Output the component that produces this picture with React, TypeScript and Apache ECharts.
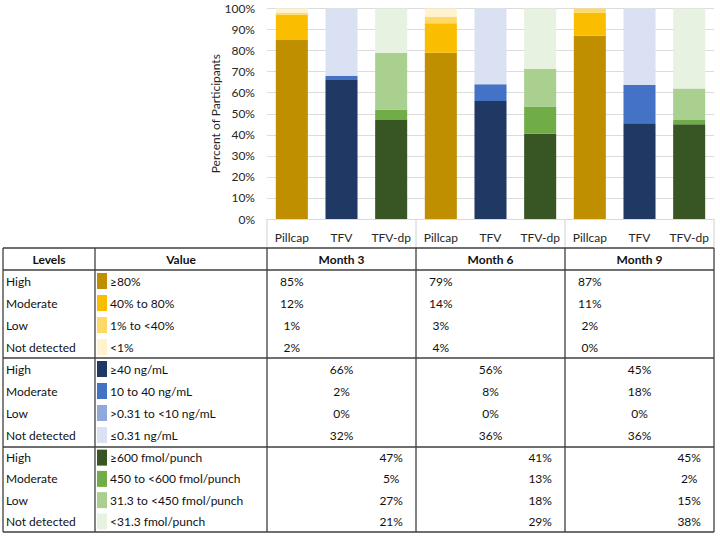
import React, { useEffect, useRef } from "react";
import * as echarts from "echarts";

// ---------- data ----------
const categories = ["Pillcap", "TFV", "TFV-dp", "Pillcap", "TFV", "TFV-dp", "Pillcap", "TFV", "TFV-dp"];
const months = ["Month 3", "Month 6", "Month 9"];
const levels = ["High", "Moderate", "Low", "Not detected"];

// Table percentages per month: [High, Moderate, Low, Not detected]
const pillcapValues = [
  [85, 12, 1, 2],
  [79, 14, 3, 4],
  [87, 11, 2, 0],
];
const tfvValues = [
  [66, 2, 0, 32],
  [56, 8, 0, 36],
  [45, 18, 0, 36],
];
const tfvDpValues = [
  [47, 5, 27, 21],
  [41, 13, 18, 29],
  [45, 2, 15, 38],
];

// Bar segment heights (unrounded shares)
const pillcapBars = [
  [85, 12, 1, 2],
  [79, 14, 3, 4],
  [87, 11, 2, 0],
];
const tfvBars = [
  [66, 2, 0, 32],
  [56, 8, 0, 36],
  [45.5, 18.2, 0, 36.3],
];
const tfvDpBars = [
  [47, 5, 27, 21],
  [40.5, 13, 17.8, 28.7],
  [45, 2, 15, 38],
];

const pillcapRanges = ["≥80%", "40% to 80%", "1% to <40%", "<1%"];
const tfvRanges = ["≥40 ng/mL", "10 to 40 ng/mL", ">0.31 to <10 ng/mL", "≤0.31 ng/mL"];
const tfvDpRanges = ["≥600 fmol/punch", "450 to <600 fmol/punch", "31.3 to <450 fmol/punch", "<31.3 fmol/punch"];

const pillcapColors = ["#BF8F00", "#FBBD00", "#FFD966", "#FFF2CC"];
const tfvColors = ["#203864", "#4472C4", "#8EA9DB", "#D9E1F2"];
const tfvDpColors = ["#375623", "#70AD47", "#A9D08E", "#E8F2E0"];

const measureValues = [pillcapValues, tfvValues, tfvDpValues];
const measureBars = [pillcapBars, tfvBars, tfvDpBars];
const measureRanges = [pillcapRanges, tfvRanges, tfvDpRanges];
const measureColors = [pillcapColors, tfvColors, tfvDpColors];

// ---------- layout ----------
const W = 720;
const H = 539;
const FONT = "Lato, 'Open Sans', sans-serif";
const GRID = { left: 267, right: 6, top: 8.5, bottom: 320 };
const AXIS_Y = H - GRID.bottom; // 219
const TABLE_TOP = 248;
const HEADER_BOTTOM = 270;
const GROUP_TOPS = [270, 358, 447];
const ROW_HEIGHTS = [22, 22, 21.25];
const TABLE_BOTTOM = 532;
const COLS = [3, 95, 267, 416, 565, 714];
const BORDER = "#3f3f3f";

function buildSeries() {
  const series: any[] = [];
  measureBars.forEach((vals, m) => {
    levels.forEach((lv, l) => {
      series.push({
        name: `${categories[m]} ${lv}`,
        type: "bar",
        stack: "total",
        barWidth: "64.5%",
        itemStyle: { color: measureColors[m][l] },
        emphasis: { disabled: true },
        data: categories.map((_, i) => (i % 3 === m ? vals[Math.floor(i / 3)][l] : "-")),
      });
    });
  });
  return series;
}

function buildGraphic(chart: any) {
  const g: any[] = [];
  const line = (x1: number, y1: number, x2: number, y2: number, stroke = BORDER, lw = 1.3) =>
    g.push({ type: "line", silent: true, shape: { x1, y1, x2, y2 }, style: { stroke, lineWidth: lw } });
  const text = (t: string, x: number, y: number, align = "left", bold = false) =>
    g.push({
      type: "text",
      silent: true,
      style: {
        text: t,
        x,
        y,
        align,
        verticalAlign: "middle",
        fontFamily: FONT,
        fontSize: 12,
        fontWeight: bold ? "bold" : "normal",
        fill: "#111111",
      },
    });

  // multi-level category axis separators
  for (let k = 2; k < COLS.length; k++) line(COLS[k], AXIS_Y, COLS[k], TABLE_TOP, "#d0d0d0", 1);

  // table structure
  line(COLS[0], TABLE_TOP, COLS[5], TABLE_TOP);
  line(COLS[0], HEADER_BOTTOM, COLS[5], HEADER_BOTTOM);
  line(COLS[0], GROUP_TOPS[1], COLS[5], GROUP_TOPS[1]);
  line(COLS[0], GROUP_TOPS[2], COLS[5], GROUP_TOPS[2]);
  line(COLS[0], TABLE_BOTTOM, COLS[5], TABLE_BOTTOM);
  COLS.forEach((x) => line(x, TABLE_TOP, x, TABLE_BOTTOM));

  // header
  const hy = (TABLE_TOP + HEADER_BOTTOM) / 2;
  text("Levels", (COLS[0] + COLS[1]) / 2, hy, "center", true);
  text("Value", (COLS[1] + COLS[2]) / 2, hy, "center", true);
  months.forEach((mo, i) => text(mo, (COLS[i + 2] + COLS[i + 3]) / 2, hy, "center", true));

  // body
  measureValues.forEach((vals, m) => {
    levels.forEach((lv, l) => {
      const cy = GROUP_TOPS[m] + ROW_HEIGHTS[m] * (l + 0.5);
      text(lv, COLS[0] + 3, cy);
      g.push({
        type: "rect",
        silent: true,
        shape: { x: COLS[1] + 2, y: cy - 8, width: 10, height: 16 },
        style: { fill: measureColors[m][l] },
      });
      text(measureRanges[m][l], COLS[1] + 15, cy);
      months.forEach((_, mo) => {
        const idx = mo * 3 + m;
        const px = chart.convertToPixel({ xAxisIndex: 0 }, idx);
        text(`${vals[mo][l]}%`, px, cy, "center");
      });
    });
  });
  return g;
}

export default function App() {
  const ref = useRef<HTMLDivElement>(null);
  useEffect(() => {
    if (!ref.current) return;
    const chart = echarts.init(ref.current, undefined, { renderer: "svg" });
    chart.setOption({
      animation: false,
      backgroundColor: "#fff",
      textStyle: { fontFamily: FONT },
      grid: { ...GRID, containLabel: false },
      xAxis: {
        type: "category",
        data: categories,
        axisLine: { show: true, lineStyle: { color: "#d9d9d9" } },
        axisTick: { show: false },
        axisLabel: { color: "#262626", fontSize: 12, fontFamily: FONT, margin: 12, interval: 0 },
      },
      yAxis: {
        type: "value",
        min: 0,
        max: 100,
        interval: 10,
        name: "Percent of Participants",
        nameLocation: "middle",
        nameRotate: 90,
        nameGap: 46,
        nameMoveOverlap: false,
        nameTextStyle: { color: "#262626", fontSize: 12, fontFamily: FONT },
        axisLine: { show: false },
        axisTick: { show: false },
        axisLabel: { formatter: "{value}%", color: "#262626", fontSize: 12, fontFamily: FONT, margin: 12 },
        splitLine: { lineStyle: { color: "#dcdcdc" } },
      },
      series: buildSeries(),
    });
    chart.setOption({ graphic: buildGraphic(chart) });
    return () => chart.dispose();
  }, []);
  return (
    <div
      ref={ref}
      style={{ position: "absolute", left: 0, top: 0, width: W, height: H, background: "#fff" }}
    />
  );
}
